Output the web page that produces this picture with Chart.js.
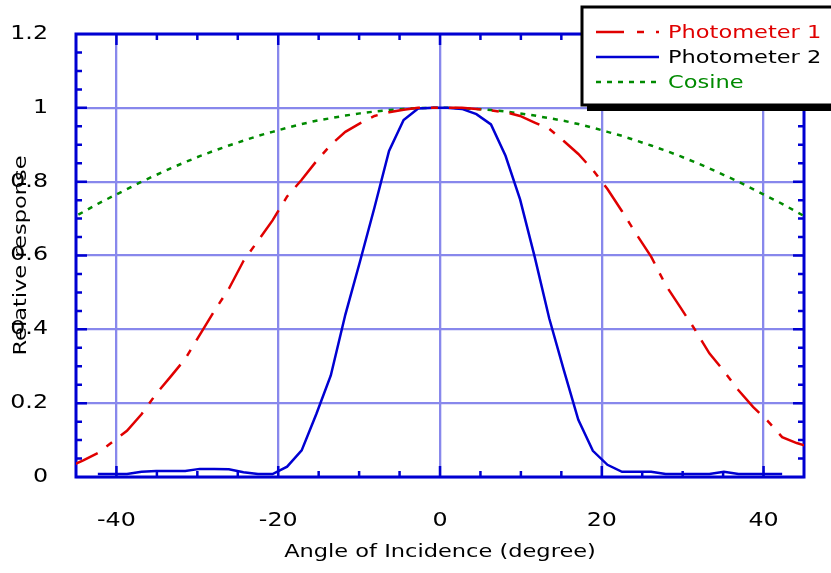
<!DOCTYPE html>
<html>
<head>
<meta charset="utf-8">
<script src="https://cdn.jsdelivr.net/npm/chart.js@4.4.1/dist/chart.umd.min.js"></script>
<style>
  html, body { margin: 0; padding: 0; background: #fff; }
  canvas { display: block; }
</style>
</head>
<body>
<canvas id="chart" width="831" height="573"></canvas>
<script>
// angles of incidence (degree) the photometers were read at
const angles = [-45.9, -44.1, -42.3, -40.5, -38.7, -36.9, -35.1, -33.3, -31.5, -29.7, -27.9, -26.1, -24.3,
  -22.5, -20.7, -18.9, -17.1, -15.3, -13.5, -11.7, -9.9, -8.1, -6.3, -4.5, -2.7, -0.9,
  0.9, 2.7, 4.5, 6.3, 8.1, 9.9, 11.7, 13.5, 15.3, 17.1, 18.9, 20.7, 22.5, 24.3, 26.1,
  27.9, 29.7, 31.5, 33.3, 35.1, 36.9, 38.7, 40.5, 42.3, 44.1, 45.9];

const photometer1 = [0.028, 0.045, 0.065, 0.095, 0.125, 0.17, 0.225, 0.272, 0.32, 0.385, 0.45, 0.51, 0.585,
  0.64, 0.695, 0.76, 0.805, 0.855, 0.9, 0.935, 0.958, 0.978, 0.988, 0.995, 1.0, 1.0,
  1.0, 1.0, 0.997, 0.993, 0.988, 0.978, 0.96, 0.943, 0.91, 0.875, 0.832, 0.78, 0.72, 0.657, 0.597,
  0.52, 0.46, 0.40, 0.335, 0.287, 0.235, 0.19, 0.152, 0.108, 0.092, 0.08];

const photometer2 = [null, null, 0.008, 0.008, 0.008, 0.014, 0.016, 0.016, 0.016, 0.022, 0.022, 0.021, 0.013,
  0.008, 0.008, 0.028, 0.072, 0.17, 0.275, 0.44, 0.583, 0.73, 0.883, 0.967, 0.998, 1.0,
  1.0, 0.997, 0.983, 0.955, 0.87, 0.752, 0.597, 0.43, 0.29, 0.155, 0.071, 0.033, 0.014, 0.014, 0.014,
  0.008, 0.008, 0.008, 0.008, 0.014, 0.008, 0.008, 0.008, 0.008, null, null];

const cosine = [0.696, 0.718, 0.740, 0.760, 0.780, 0.800, 0.818, 0.836, 0.853, 0.869, 0.884, 0.898, 0.911,
  0.924, 0.935, 0.946, 0.956, 0.965, 0.972, 0.979, 0.985, 0.990, 0.994, 0.997, 0.999, 1.0,
  1.0, 0.999, 0.997, 0.994, 0.990, 0.985, 0.979, 0.972, 0.965, 0.956, 0.946, 0.935, 0.924, 0.911, 0.898,
  0.884, 0.869, 0.853, 0.836, 0.818, 0.800, 0.780, 0.760, 0.740, 0.718, 0.696];

const seriesNames = ['Photometer 1', 'Photometer 2', 'Cosine'];
const xTicks = [-40, -20, 0, 20, 40];
const xTickLabels = ['-40', '-20', '0', '20', '40'];
const yTicks = [0, 0.2, 0.4, 0.6, 0.8, 1, 1.2];
const yTickLabels = ['0', '0.2', '0.4', '0.6', '0.8', '1', '1.2'];

const axisBlue = '#0000d2';
const gridBlue = '#8888ec';
const font = "'DejaVu Sans', Verdana, sans-serif";
const textStretch = 1.25; // the original's lettering is wide, so stretch glyphs sideways

function points(ys) {
  return angles.map((a, i) => ({ x: a, y: ys[i] }));
}

// frame + inward ticks on all four sides, and the boxed legend
const framePlugin = {
  id: 'frame',
  beforeInit(chart) {
    const ctx = chart.ctx;
    const fill = CanvasRenderingContext2D.prototype.fillText;
    ctx.fillText = function (text, x, y) {
      this.save();
      this.translate(x, y);
      this.scale(textStretch, 1);
      fill.call(this, text, 0, 0);
      this.restore();
    };
  },
  beforeDatasetsDraw(chart) {
    const { ctx, chartArea: a, scales: { x, y } } = chart;
    ctx.save();
    ctx.strokeStyle = axisBlue;
    ctx.lineWidth = 2.5;
    ctx.beginPath();
    for (let v = -40; v <= 40; v += 5) {
      const px = x.getPixelForValue(v);
      const len = v % 20 === 0 ? 11 : 6;
      ctx.moveTo(px, a.bottom); ctx.lineTo(px, a.bottom - len);
      ctx.moveTo(px, a.top); ctx.lineTo(px, a.top + len);
    }
    for (let i = 1; i < 24; i++) {
      const py = y.getPixelForValue(i * 0.05);
      const len = i % 4 === 0 ? 11 : 6;
      ctx.moveTo(a.left, py); ctx.lineTo(a.left + len, py);
      ctx.moveTo(a.right, py); ctx.lineTo(a.right - len, py);
    }
    ctx.stroke();
    ctx.lineWidth = 3;
    ctx.strokeRect(a.left, a.top, a.right - a.left, a.bottom - a.top);
    ctx.restore();
  },
  afterDraw(chart) {
    const ctx = chart.ctx;
    const bx = 582, by = 7, bw = 300, bh = 98;
    ctx.save();
    ctx.fillStyle = '#000';
    ctx.fillRect(bx + 5, by + 6, bw, bh);
    ctx.fillStyle = '#fff';
    ctx.fillRect(bx, by, bw, bh);
    ctx.strokeStyle = '#000';
    ctx.lineWidth = 3;
    ctx.strokeRect(bx, by, bw, bh);
    const textColors = ['#e00000', '#000000', '#008a00'];
    ctx.font = '18px ' + font;
    ctx.textBaseline = 'middle';
    ctx.textAlign = 'left';
    chart.data.datasets.forEach((ds, i) => {
      const ly = by + 25 + i * 25;
      ctx.strokeStyle = ds.borderColor;
      ctx.lineWidth = ds.borderWidth;
      ctx.setLineDash(ds.legendDash || ds.borderDash || []);
      ctx.beginPath();
      ctx.moveTo(596, ly);
      ctx.lineTo(659, ly);
      ctx.stroke();
      ctx.fillStyle = textColors[i];
      ctx.fillText(ds.label, 668, ly + 1);
    });
    ctx.restore();
  }
};

new Chart(document.getElementById('chart'), {
  type: 'line',
  data: {
    datasets: [
      { label: seriesNames[0], data: points(photometer1), borderColor: '#e00000', borderWidth: 2.5,
        borderDash: [32, 11, 7, 11], legendDash: [28, 13, 7, 12] },
      { label: seriesNames[1], data: points(photometer2), borderColor: '#0000d2', borderWidth: 2.5 },
      { label: seriesNames[2], data: points(cosine), borderColor: '#008a00', borderWidth: 2.5, borderDash: [5, 6] }
    ]
  },
  options: {
    responsive: false,
    animation: false,
    devicePixelRatio: 1,
    layout: { padding: { top: 34, right: 27, left: 0, bottom: 0 } },
    elements: { point: { radius: 0 }, line: { tension: 0 } },
    plugins: { legend: { display: false }, tooltip: { enabled: false } },
    scales: {
      x: {
        type: 'linear',
        min: -45,
        max: 45,
        afterBuildTicks: s => { s.ticks = xTicks.map(v => ({ value: v })); },
        afterFit: s => { s.height = 96; s.paddingLeft = 0; s.paddingRight = 0; },
        ticks: {
          callback: (v, i) => xTickLabels[i],
          color: '#000',
          font: { family: font, size: 19 },
          padding: 33,
          maxRotation: 0
        },
        grid: { color: gridBlue, lineWidth: 2.3, drawTicks: false },
        border: { display: false },
        title: {
          display: true,
          text: 'Angle of Incidence (degree)',
          color: '#000',
          font: { family: font, size: 18 },
          padding: { top: 0, bottom: 10 }
        }
      },
      y: {
        type: 'linear',
        min: 0,
        max: 1.2,
        afterBuildTicks: s => { s.ticks = yTicks.map(v => ({ value: v })); },
        afterFit: s => { s.width = 76; s.paddingTop = 0; s.paddingBottom = 0; },
        ticks: {
          callback: (v, i) => yTickLabels[i],
          color: '#000',
          font: { family: font, size: 19 },
          padding: 28
        },
        grid: { color: gridBlue, lineWidth: 2.3, drawTicks: false },
        border: { display: false },
        title: {
          display: true,
          text: 'Relative response',
          color: '#000',
          font: { family: font, size: 18 },
          padding: { top: 11, bottom: 0 }
        }
      }
    }
  },
  plugins: [framePlugin]
});
</script>
</body>
</html>
